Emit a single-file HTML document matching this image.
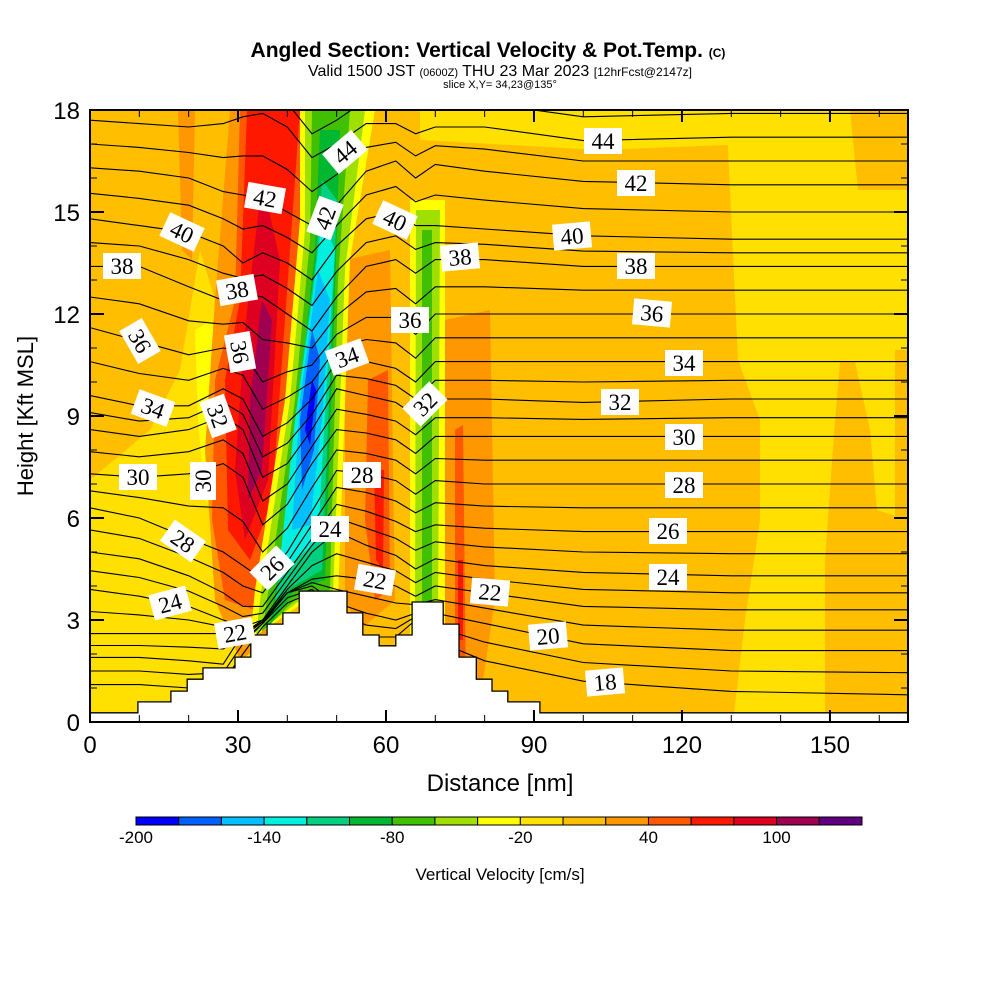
<!DOCTYPE html>
<html><head><meta charset="utf-8"><style>
body{margin:0;background:#fff;}
svg{display:block;}
.t{font-family:"Liberation Sans",sans-serif;}
.s{font-family:"Liberation Serif",serif;}
</style></head><body>
<svg id="chart" width="1000" height="1000" viewBox="0 0 1000 1000" xmlns="http://www.w3.org/2000/svg">
<defs><clipPath id="pc"><rect x="90" y="110" width="818" height="612"/></clipPath></defs>
<g class="t">
<text x="488" y="57" text-anchor="middle" font-size="21" font-weight="bold">Angled Section: Vertical Velocity &amp; Pot.Temp. <tspan font-size="12">(C)</tspan></text>
<text x="500" y="76" text-anchor="middle" font-size="16">Valid 1500 JST <tspan font-size="11">(0600Z)</tspan> THU 23 Mar 2023 <tspan font-size="12">[12hrFcst@2147z]</tspan></text>
<text x="500" y="88" text-anchor="middle" font-size="11">slice X,Y= 34,23@135°</text>
</g>
<g id="field" clip-path="url(#pc)"></g>
<g id="contours" clip-path="url(#pc)"></g>
<g id="terrain"></g>
<g id="labels" class="s"></g>
<rect x="90" y="110" width="818" height="612" fill="none" stroke="#000" stroke-width="2"/>
<g id="axes" class="t"></g>
<text class="t" x="500" y="791" text-anchor="middle" font-size="24">Distance [nm]</text>
<text class="t" x="33" y="416" text-anchor="middle" font-size="22" transform="rotate(-90 33 416)">Height [Kft MSL]</text>
<g id="cbar" class="t"></g>
<text class="t" x="500" y="880" text-anchor="middle" font-size="17">Vertical Velocity [cm/s]</text>
</svg>
<script>
const xTicks=[0,30,60,90,120,150];
const yTicks=[0,3,6,9,12,15,18];
const cbarLevels=[-200,-180,-160,-140,-120,-100,-80,-60,-40,-20,0,20,40,60,80,100,120];
const cbarLabels=[-200,-140,-80,-20,40,100];
const cbarColors=["#0000ff","#0060ff","#00c0ff","#00f0e0","#00d080","#00b830","#40c000","#a0e000","#ffff00","#ffe000","#ffbe00","#ff9800","#ff5800","#ff1800","#dd0020","#a00050","#600080"];
const contourX=[0,10,20,27,31,35,40,45,50,56,62,66,70,80,100,130,166];
const levels=[18,20,22,24,26,28,30,32,34,36,38,40,42,44];
const h18=[1.1,1.1,1.0,1.2,2.0,2.8,3.5,3.8,3.0,2.5,2.5,3.0,2.4,1.8,1.2,0.9,0.8];
const h20=[1.9,1.9,1.8,1.7,2.6,3.0,3.8,4.0,3.5,3.2,3.0,3.2,3.2,2.9,2.3,2.1,2.1];
const h22=[2.6,2.6,2.6,2.6,2.4,2.9,3.8,4.2,4.3,4.2,4.0,3.7,4.0,3.8,3.4,3.3,3.3];
const h24=[3.9,3.7,3.4,3.0,2.8,3.0,4.0,5.0,5.6,5.2,4.9,4.5,4.8,4.6,4.4,4.3,4.3];
const h26=[5.0,4.8,4.3,3.8,3.4,3.4,4.4,5.4,6.4,6.2,5.9,5.6,5.8,5.7,5.6,5.6,5.6];
const h28=[6.3,6.0,5.4,5.0,4.6,4.2,5.0,6.2,7.4,7.3,7.1,6.7,7.1,7.0,7.0,7.0,7.0];
const h30=[7.3,7.2,7.3,7.6,7.2,5.8,6.4,7.6,8.6,8.5,8.3,7.9,8.4,8.4,8.4,8.4,8.4];
const h32=[8.6,8.4,8.6,9.0,8.6,7.2,7.6,8.6,9.8,9.6,9.4,9.0,9.5,9.5,9.4,9.5,9.5];
const h34=[9.6,9.3,9.3,9.8,9.5,8.4,8.8,9.5,10.6,10.6,10.4,10.0,10.6,10.6,10.6,10.6,10.6];
const h36=[11.6,11.2,10.8,11.0,10.9,10.0,10.3,10.5,11.4,11.9,11.9,11.4,12.0,12.0,12.0,12.0,12.0];
const h38=[13.4,13.4,12.8,12.4,12.6,12.5,12.0,11.5,12.5,13.4,13.6,13.2,13.6,13.6,13.4,13.4,13.4];
const h40=[14.8,14.6,14.4,14.0,13.5,13.8,13.5,13.0,14.0,14.8,15.0,14.6,14.6,14.5,14.3,14.2,14.2];
const h42=[16.3,16.2,16.0,15.6,15.5,15.4,15.0,14.6,15.2,16.2,16.5,16.0,16.4,16.2,15.9,15.8,15.8];
const h44=[17.7,17.6,17.5,17.6,17.8,17.9,17.5,16.6,17.0,17.6,17.6,17.3,17.5,17.5,17.1,17.2,17.2];
const terrainX=[0,9.7,16.4,19.7,22.9,29.4,32.6,35.9,39.1,42.4,52.1,55.3,58.6,62.0,65.3,71.6,74.8,78.3,81.5,84.7,91.2];
const terrainH=[0.27,0.59,0.91,1.26,1.59,1.91,2.56,2.88,3.21,3.85,3.21,2.56,2.24,2.56,3.53,2.88,1.91,1.26,0.91,0.59,0.27];
const NS="http://www.w3.org/2000/svg";
const X=v=>90+v*4.933, Y=v=>722-v*34;
function mk(tag,parent,attrs){const e=document.createElementNS(NS,tag);for(const k in attrs)e.setAttribute(k,attrs[k]);parent.appendChild(e);return e;}
const fieldRegions=[
[9,"90,480 150,430 180,370 200,250 215,300 220,420 230,560 250,640 250,722 90,722"],
[8,"195,330 212,320 225,420 222,520 205,500 198,420"],
[9,"420,110 728,110 728,145 600,150 420,140"],
[9,"728,110 850,110 858,190 908,190 908,722 733,722 745,620 760,520 760,420 738,360 728,150"],
[10,"840,362 855,362 870,430 877,510 908,520 908,722 825,722 825,560 835,420"],
[10,"895,350 908,350 908,520 895,520"],
[11,"178,110 195,110 192,260 182,250"],
[11,"230,110 310,110 305,300 290,560 270,640 240,660 215,600 205,450 215,300"],
[12,"240,110 305,110 300,250 280,520 255,610 225,600 212,520 215,380 235,300"],
[13,"247,110 300,110 290,250 272,500 250,560 228,530 225,380 240,300"],
[14,"262,180 280,260 268,480 245,540 235,470 245,330"],
[15,"262,300 272,320 262,470 248,500 250,400"],
[11,"345,260 390,250 395,600 360,630 345,600"],
[12,"368,380 388,370 390,590 375,600 365,520"],
[13,"374,470 384,470 383,570 376,560"],
[11,"445,320 490,310 495,600 480,700 450,700 445,640"],
[12,"455,430 463,425 466,690 455,690"],
[13,"458,560 463,560 463,640 458,640"],
[8,"300,110 375,110 350,260 338,600 300,605 250,640 255,590 285,400 300,220"],
[7,"305,110 365,110 345,270 333,595 300,600 256,635 262,585 290,400 305,230"],
[6,"312,110 350,110 338,280 330,590 300,595 262,632 270,580 295,400 310,240"],
[5,"320,130 340,130 335,290 325,580 295,590 270,625 278,575 300,390 315,250"],
[4,"322,180 337,200 332,330 322,570 290,588 275,600 283,560 300,380 316,260"],
[3,"322,220 335,250 328,360 318,540 290,565 280,560 295,420 312,300"],
[2,"318,270 330,300 322,420 310,525 292,530 300,400"],
[1,"312,330 320,360 314,450 302,490 300,420"],
[0,"312,380 316,390 310,445 305,430"],
[8,"410,200 445,200 445,640 410,640"],
[7,"416,210 440,210 438,630 415,630"],
[6,"422,230 432,230 432,620 422,620"]
];
const field=document.getElementById('field');
const bg=mk('rect',field,{x:90,y:110,width:818,height:612,fill:"#ffbe00"});


fieldRegions.forEach(r=>{const p=mk('polygon',field,{points:r[1],fill:cbarColors[r[0]]});

});
const series=[h18,h20,h22,h24,h26,h28,h30,h32,h34,h36,h38,h40,h42,h44];
const cg=document.getElementById('contours');
function line(arr,name){const d=arr.map((h,i)=>(i?'L':'M')+X(contourX[i]).toFixed(1)+','+Y(h).toFixed(1)).join(' ');
const p=mk('path',cg,{d:d,fill:"none",stroke:"#000","stroke-width":1.1});

}
series.forEach((s,k)=>{line(s,'theta-contour-'+levels[k]);
 if(k<series.length-1){const n=series[k+1];line(s.map((v,i)=>(v+n[i])/2),'theta-contour-'+(levels[k]+1));}});
line(h44.map(v=>v+0.7),'theta-contour-45');
const tg=document.getElementById('terrain');
let td='M'+X(0)+','+Y(0);
terrainX.forEach((x,i)=>{const x2=i<terrainX.length-1?terrainX[i+1]:166;td+=' L'+X(x).toFixed(1)+','+Y(terrainH[i]).toFixed(1)+' L'+Math.min(908,X(x2)).toFixed(1)+','+Y(terrainH[i]).toFixed(1);});
td+=' L908,'+Y(0)+' Z';
const tp=mk('path',tg,{d:td,fill:"#fff",stroke:"#000","stroke-width":1.3});


const labels=[[44,603,141,0],[42,636,183,0],[40,572,236,-5],[38,636,266,0],[36,652,313,5],[34,684,363,0],[32,620,402,0],[30,684,437,0],[28,684,485,0],[26,668,531,0],[24,668,577,0],[22,490,592,5],[20,548,636,-5],[18,605,682,-5],
[38,122,266,0],[40,182,232,25],[36,140,341,60],[34,153,408,20],[30,138,477,0],[28,183,541,35],[24,170,603,-15],[22,235,633,-10],[32,218,416,70],[30,203,481,-90],[38,237,290,-10],[36,240,352,80],[42,265,198,10],[26,272,568,-45],[24,330,529,0],[42,325,218,-70],[44,345,152,-40],[34,347,357,-20],[28,362,475,0],[22,375,580,10],[40,395,220,25],[36,410,320,0],[32,425,404,-45],[38,460,257,-5]];
const lg=document.getElementById('labels');
labels.forEach(l=>{const g=mk('g',lg,{transform:`translate(${l[1]},${l[2]}) rotate(${l[3]})`});


mk('rect',g,{x:-19,y:-13,width:38,height:26,fill:"#fff"});
const t=mk('text',g,{x:0,y:8,"text-anchor":"middle","font-size":23});t.textContent=l[0];});
const ag=document.getElementById('axes');
for(let v=0;v<=160;v+=10){const maj=v%30===0;const L=maj?12:7;
 mk('line',ag,{x1:X(v),x2:X(v),y1:722,y2:722-L,stroke:"#000","stroke-width":maj?2:1});
 mk('line',ag,{x1:X(v),x2:X(v),y1:110,y2:110+L,stroke:"#000","stroke-width":maj?2:1});}
for(let v=0;v<=18;v+=1){const maj=v%3===0;const L=maj?14:7;
 mk('line',ag,{x1:90,x2:90+L,y1:Y(v),y2:Y(v),stroke:"#000","stroke-width":maj?2:1});
 mk('line',ag,{x1:908,x2:908-L,y1:Y(v),y2:Y(v),stroke:"#000","stroke-width":maj?2:1});}
xTicks.forEach(v=>{const t=mk('text',ag,{x:X(v),y:753,"text-anchor":"middle","font-size":24});t.textContent=v;

});
yTicks.forEach(v=>{const t=mk('text',ag,{x:80,y:Y(v)+9,"text-anchor":"end","font-size":24});t.textContent=v;

});
const cb=document.getElementById('cbar');const cx0=136,cw=726/17;
cbarColors.forEach((c,i)=>{const r=mk('rect',cb,{x:cx0+i*cw,y:817,width:cw,height:8,fill:c,stroke:"#000","stroke-width":1});

});
cbarLabels.forEach(v=>{const i=cbarLevels.indexOf(v);const t=mk('text',cb,{x:cx0+i*cw,y:843,"text-anchor":"middle","font-size":17});t.textContent=v;

});
</script>
</body></html>
